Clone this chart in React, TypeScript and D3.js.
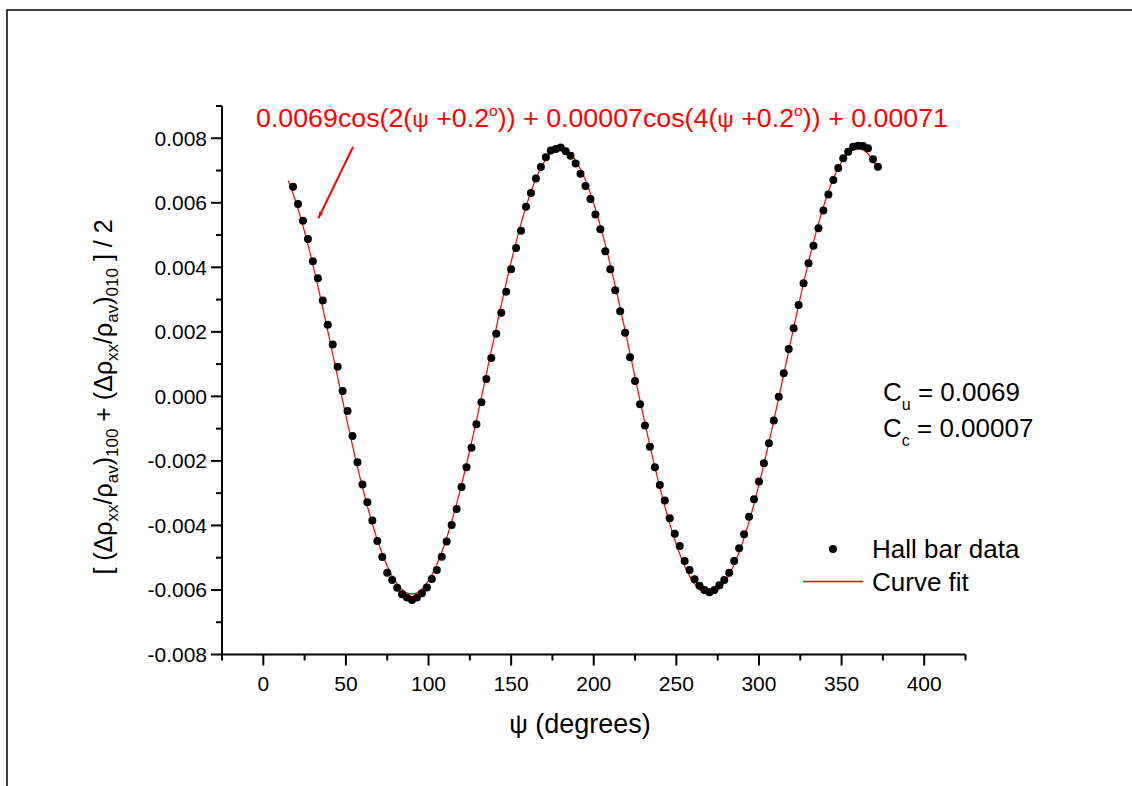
import React from "react";
import * as d3 from "d3";

// ---- data ----
const psiDegrees = [
  18, 21, 24, 27, 30, 33, 36, 39, 42, 45, 48, 51, 54, 57, 60, 63, 66, 69, 72, 75,
  78, 81, 84, 87, 90, 93, 96, 99, 102, 105, 108, 111, 114, 117, 120, 123, 126, 129, 132, 135,
  138, 141, 144, 147, 150, 153, 156, 159, 162, 165, 168, 171, 174, 177, 180, 183, 186, 189, 192, 195,
  198, 201, 204, 207, 210, 213, 216, 219, 222, 225, 228, 231, 234, 237, 240, 243, 246, 249, 252, 255,
  258, 261, 264, 267, 270, 273, 276, 279, 282, 285, 288, 291, 294, 297, 300, 303, 306, 309, 312, 315,
  318, 321, 324, 327, 330, 333, 336, 339, 342, 345, 348, 351, 354, 357, 360, 363, 366, 369, 372,
];

const hallBarData = [
  0.0065, 0.00596, 0.00544, 0.00488, 0.00419, 0.00366, 0.00297, 0.00222, 0.00161, 0.00092,
  0.00017, -0.00045, -0.00123, -0.00204, -0.00273, -0.00328, -0.00385, -0.00448, -0.00498, -0.00547,
  -0.00569, -0.00593, -0.00613, -0.00623, -0.00631, -0.00623, -0.0061, -0.00592, -0.00566, -0.00538,
  -0.00497, -0.0045, -0.00399, -0.00349, -0.00281, -0.0022, -0.00159, -0.00086, -0.00018, 0.00054,
  0.00119, 0.00194, 0.00259, 0.00324, 0.00394, 0.0046, 0.00513, 0.00588, 0.0063, 0.00675,
  0.00711, 0.00741, 0.00762, 0.00767, 0.00771, 0.0076, 0.00746, 0.00722, 0.0069, 0.00652,
  0.00612, 0.00564, 0.00518, 0.0045, 0.00394, 0.00329, 0.00264, 0.00197, 0.00121, 0.00048,
  -0.00024, -0.0009, -0.00156, -0.0022, -0.00275, -0.00323, -0.00378, -0.00426, -0.00464, -0.0051,
  -0.00538, -0.00567, -0.00587, -0.006, -0.00607, -0.006, -0.00585, -0.00569, -0.00547, -0.0051,
  -0.00471, -0.00427, -0.00373, -0.00319, -0.00264, -0.00207, -0.00145, -0.00075, -0.00001, 0.00072,
  0.00147, 0.00211, 0.00283, 0.00351, 0.00413, 0.00467, 0.00521, 0.00576, 0.00626, 0.00671,
  0.00708, 0.00738, 0.00758, 0.00774, 0.00777, 0.00776, 0.00769, 0.00735, 0.00712,
];

// Fit parameters printed on the chart
const fitAmplitudes = [0.0069, 0.00007];
const fitHarmonics = [2, 4];
const fitPhaseDeg = 0.2;
const fitOffset = 0.00071;
const fitPsiRange = [15, 371];

const xTicks = [0, 50, 100, 150, 200, 250, 300, 350, 400];
const xMinorTicks = [-25, 25, 75, 125, 175, 225, 275, 325, 375, 425];
const yTicks = [-0.008, -0.006, -0.004, -0.002, 0, 0.002, 0.004, 0.006, 0.008];
const yMinorTicks = [-0.007, -0.005, -0.003, -0.001, 0.001, 0.003, 0.005, 0.007, 0.009];

const FONT = "'Liberation Sans', Arial, sans-serif";

export default function App() {
  const W = 1132;
  const H = 786;
  const left = 222;
  const right = 965.5;
  const top = 106;
  const bottom = 654.5;

  const x = d3.scaleLinear().domain([-25, 425]).range([left, right]);
  const y = d3.scaleLinear().domain([-0.008, 0.009]).range([bottom, top]);

  const fitFn = (psi: number) =>
    fitAmplitudes.reduce(
      (s, a, i) => s + a * Math.cos((fitHarmonics[i] * (psi + fitPhaseDeg) * Math.PI) / 180),
      fitOffset
    );
  const fitPts: [number, number][] = d3
    .range(fitPsiRange[0], fitPsiRange[1] + 0.001, 0.5)
    .map((p) => [p, fitFn(p)]);
  const line = d3
    .line<[number, number]>()
    .x((d) => x(d[0]))
    .y((d) => y(d[1]));

  const fmtY = (v: number) => (Math.abs(v) < 1e-12 ? "0.000" : v.toFixed(3));

  return (
    <svg
      width={W}
      height={H}
      style={{ position: "absolute", left: 0, top: 0, background: "#fff" }}
      fontFamily={FONT}
    >
      <rect x={0} y={0} width={W} height={H} fill="#fff" />
      {/* outer frame */}
      <rect x={7} y={10} width={1300} height={1000} fill="none" stroke="#111" strokeWidth={1.6} />

      {/* fit curve */}
      <path d={line(fitPts) || ""} fill="none" stroke="#ff0000" strokeWidth={1.2} />

      {/* data points */}
      {psiDegrees.map((p, i) => (
        <circle key={i} cx={x(p)} cy={y(hallBarData[i])} r={4} fill="#000" />
      ))}

      {/* axes */}
      <line x1={left} x2={left} y1={top} y2={bottom + 1} stroke="#000" strokeWidth={2} />
      <line x1={left - 1} x2={right} y1={bottom} y2={bottom} stroke="#000" strokeWidth={2} />
      {xTicks.map((t) => (
        <g key={"xt" + t}>
          <line x1={x(t)} x2={x(t)} y1={bottom} y2={bottom + 11} stroke="#000" strokeWidth={2} />
          <text x={x(t)} y={691} fontSize={21} textAnchor="middle" fill="#000">
            {t}
          </text>
        </g>
      ))}
      {xMinorTicks.map((t) => (
        <line key={"xm" + t} x1={x(t)} x2={x(t)} y1={bottom} y2={bottom + 6} stroke="#000" strokeWidth={2} />
      ))}
      {yTicks.map((t) => (
        <g key={"yt" + t}>
          <line x1={left - 11} x2={left} y1={y(t)} y2={y(t)} stroke="#000" strokeWidth={2} />
          <text x={207} y={y(t) + 7.5} fontSize={21} textAnchor="end" fill="#000">
            {fmtY(t)}
          </text>
        </g>
      ))}
      {yMinorTicks.map((t) => (
        <line key={"ym" + t} x1={left - 6} x2={left} y1={y(t)} y2={y(t)} stroke="#000" strokeWidth={2} />
      ))}

      {/* x axis title */}
      <text x={580} y={733} fontSize={27} textAnchor="middle" fill="#000">
        <tspan fontSize={26}>ψ</tspan>
        <tspan> (degrees)</tspan>
      </text>

      {/* y axis title */}
      <text
        transform="translate(112,397) rotate(-90)"
        fontSize={25}
        textAnchor="middle"
        fill="#000"
      >
        <tspan>[ (Δρ</tspan>
        <tspan fontSize={17} dy={6}>xx</tspan>
        <tspan dy={-6}>/ρ</tspan>
        <tspan fontSize={17} dy={6}>av</tspan>
        <tspan dy={-6}>)</tspan>
        <tspan fontSize={17} dy={6}>100</tspan>
        <tspan dy={-6}> + (Δρ</tspan>
        <tspan fontSize={17} dy={6}>xx</tspan>
        <tspan dy={-6}>/ρ</tspan>
        <tspan fontSize={17} dy={6}>av</tspan>
        <tspan dy={-6}>)</tspan>
        <tspan fontSize={17} dy={6}>010</tspan>
        <tspan dy={-6}> ] / 2</tspan>
      </text>

      {/* formula */}
      <text x={256} y={127} fontSize={25.5} fill="#ff0000" textLength={692} lengthAdjust="spacingAndGlyphs">
        <tspan>0.0069cos(2(</tspan>
        <tspan fontSize={22}>ψ</tspan>
        <tspan> +0.2</tspan>
        <tspan fontSize={15} dy={-11}>o</tspan>
        <tspan dy={11}>)) + 0.00007cos(4(</tspan>
        <tspan fontSize={22}>ψ</tspan>
        <tspan> +0.2</tspan>
        <tspan fontSize={15} dy={-11}>o</tspan>
        <tspan dy={11}>)) + 0.00071</tspan>
      </text>

      {/* arrow */}
      <defs>
        <marker id="arrowHead" viewBox="0 0 10 10" refX={9} refY={5} markerWidth={7} markerHeight={7} orient="auto" markerUnits="userSpaceOnUse">
          <path d="M0,2 L10,5 L0,8 Z" fill="#ff0000" />
        </marker>
      </defs>
      <line x1={353} y1={147} x2={318.5} y2={218} stroke="#ff0000" strokeWidth={2} markerEnd="url(#arrowHead)" />

      {/* coefficients */}
      <text x={883} y={401} fontSize={26} fill="#000">
        <tspan>C</tspan>
        <tspan fontSize={16} dy={9}>u</tspan>
        <tspan dy={-9}> = 0.0069</tspan>
      </text>
      <text x={883} y={437} fontSize={26} fill="#000">
        <tspan>C</tspan>
        <tspan fontSize={16} dy={9}>c</tspan>
        <tspan dy={-9}> = 0.00007</tspan>
      </text>

      {/* legend */}
      <circle cx={833} cy={549} r={4} fill="#000" />
      <text x={872} y={558} fontSize={26} fill="#000">Hall bar data</text>
      <line x1={803} x2={863} y1={581.5} y2={581.5} stroke="#ff0000" strokeWidth={1.5} />
      <text x={872} y={591} fontSize={26} fill="#000">Curve fit</text>
    </svg>
  );
}
